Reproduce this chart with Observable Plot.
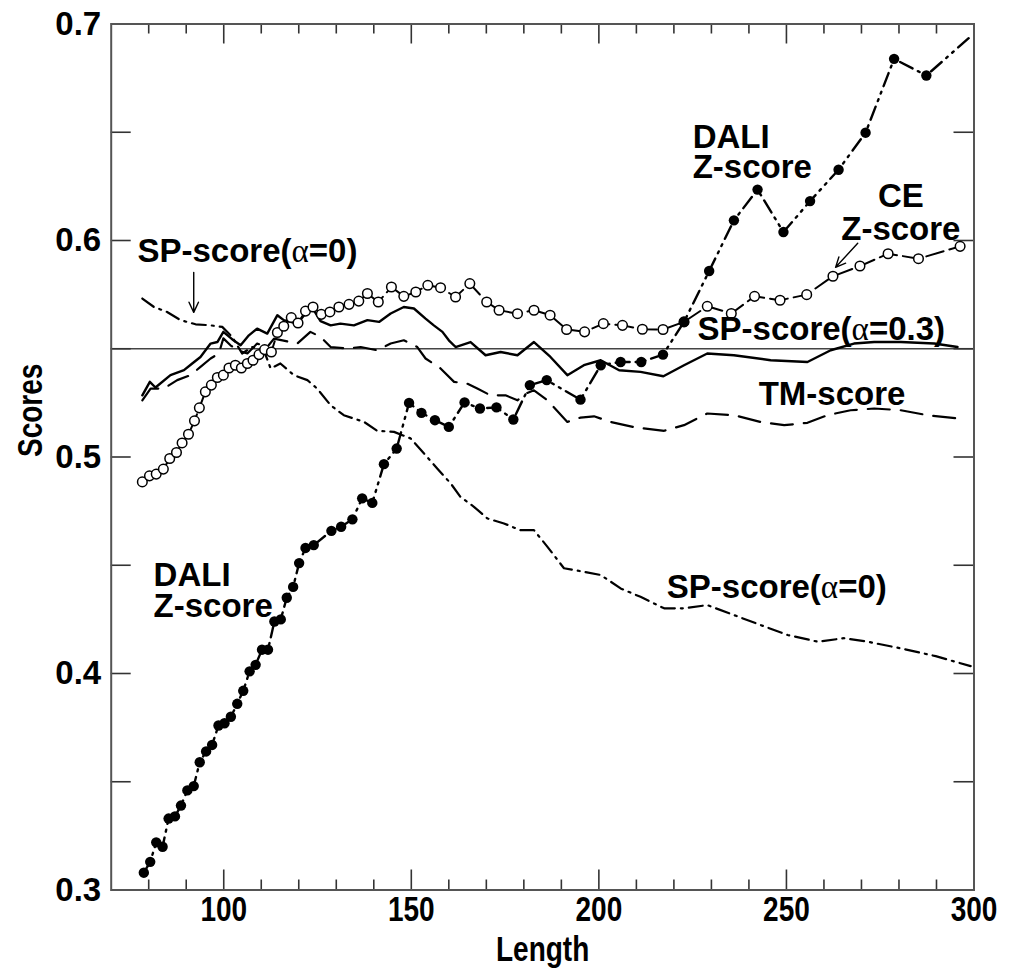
<!DOCTYPE html>
<html><head><meta charset="utf-8">
<script src="https://cdn.jsdelivr.net/npm/d3@7"></script>
<script src="https://cdn.jsdelivr.net/npm/@observablehq/plot@0.6"></script>
<style>body{margin:0;background:#fff} svg{display:block}</style>
</head><body><div id="chart"></div>
<script>
// ---- data ----
const ceX = [78.3,80.2,82.0,83.9,85.6,87.4,88.9,90.6,92.2,93.5,95.1,96.7,98.3,99.9,101.4,103.1,104.7,106.3,107.8,109.4,110.9,112.7,114.3,116.0,118.0,119.8,121.8,123.8,126.0,128.3,130.7,133.4,136.0,138.3,141.2,144.7,148.0,151.2,154.4,157.8,161.8,165.6,170.1,173.4,178.3,182.7,187.0,191.4,196.2,201.2,206.3,211.6,217.1,222.7,228.9,235.3,241.5,248.3,255.4,262.4,269.6,277.1,285.2,296.3];
const ceY = [0.4885,0.4913,0.4921,0.4944,0.4993,0.5021,0.5065,0.5105,0.5167,0.5227,0.5301,0.5332,0.5367,0.5378,0.5411,0.5424,0.5411,0.5432,0.5447,0.5473,0.5496,0.5485,0.5575,0.5604,0.5644,0.5619,0.5674,0.5693,0.5659,0.5670,0.5693,0.5705,0.5720,0.5755,0.5716,0.5785,0.5742,0.5762,0.5793,0.5782,0.5739,0.5801,0.5716,0.5678,0.5662,0.5678,0.5655,0.5589,0.5578,0.5616,0.5608,0.5590,0.5589,0.5624,0.5696,0.5663,0.5742,0.5724,0.5750,0.5835,0.5882,0.5939,0.5916,0.5973];

const daliX = [78.7,80.4,82.0,83.7,85.3,87.0,88.6,90.3,92.0,93.6,95.3,96.9,98.6,100.2,101.9,103.6,105.2,106.9,108.5,110.2,111.8,113.5,115.2,116.8,118.5,120.1,121.8,124.0,128.7,131.3,134.3,136.9,139.6,142.7,146.1,149.4,152.7,156.3,160.0,164.2,168.3,172.7,177.2,181.6,186.1,195.1,200.5,205.8,211.3,217.1,222.7,229.4,236.0,242.3,249.2,256.3,263.9,271.1,278.7,287.3,299.6];
const daliY = [0.308,0.313,0.322,0.320,0.333,0.334,0.339,0.346,0.348,0.359,0.364,0.367,0.376,0.377,0.380,0.386,0.392,0.401,0.404,0.411,0.411,0.424,0.425,0.435,0.440,0.451,0.458,0.4593,0.4659,0.4678,0.4712,0.4809,0.4788,0.4967,0.5039,0.5250,0.5204,0.5170,0.5139,0.5252,0.5224,0.5229,0.5173,0.5332,0.5355,0.5265,0.5424,0.5439,0.5439,0.5473,0.5624,0.5859,0.6093,0.6235,0.6039,0.6182,0.6327,0.6498,0.6839,0.6762,0.695];

const sp3X = [78.3,80.3,81.8,85.8,89.4,91.6,93.8,96.5,98.3,99.9,102.3,104.5,106.7,108.9,111.6,114.3,116.0,119.6,121.8,123.6,125.8,128.5,131.1,134.7,138.3,141.4,144.5,148.0,150.7,153.8,156.0,158.3,160.0,161.8,165.8,169.8,173.8,178.3,182.7,187.1,191.6,196.0,200.5,205.4,211.1,217.2,222.7,228.9,236.0,245.8,255.6,261.8,268.0,273.4,280.5,289.4,295.6];
const sp3Y = [0.5285,0.5347,0.5321,0.5378,0.5401,0.5432,0.5462,0.5524,0.5531,0.5578,0.5543,0.5516,0.5562,0.5593,0.5570,0.5655,0.5632,0.5616,0.5663,0.5690,0.5628,0.5608,0.5616,0.5608,0.5632,0.5624,0.5663,0.5693,0.5686,0.5639,0.5608,0.5578,0.5539,0.5508,0.5531,0.5470,0.5485,0.5470,0.5531,0.5462,0.5378,0.5424,0.5447,0.5401,0.5393,0.5373,0.5424,0.5478,0.5470,0.5447,0.5439,0.5493,0.5524,0.5531,0.5531,0.5524,0.5508];

const tmX = [78.3,80.5,84.0,87.6,91.1,93.8,96.5,98.7,99.9,101.8,103.6,106.3,108.9,111.6,113.4,119.6,123.1,125.8,128.5,132.9,136.5,140.9,144.5,148.0,151.6,153.8,157.8,161.4,164.9,167.6,171.1,175.1,178.3,180.5,182.7,186.3,191.6,195.1,198.7,203.1,209.4,217.4,222.7,228.9,236.0,243.1,249.4,255.6,260.9,267.1,273.4,280.5,287.6,296.0];
const tmY = [0.5262,0.5316,0.5316,0.5355,0.5378,0.5416,0.5455,0.5478,0.5548,0.5516,0.5493,0.5478,0.5524,0.5508,0.5547,0.5524,0.5578,0.5555,0.5508,0.5501,0.5508,0.5493,0.5524,0.5539,0.5508,0.5455,0.5409,0.5347,0.5339,0.5316,0.5285,0.5285,0.5262,0.5293,0.5308,0.5262,0.5162,0.5182,0.5188,0.5162,0.5138,0.5121,0.5147,0.5201,0.5193,0.5162,0.5147,0.5158,0.5193,0.5216,0.5224,0.5216,0.5193,0.5178];

const sp0X = [78.3,81.4,84.9,88.5,92.5,96.5,99.6,102.3,104.9,107.6,110.7,112.5,115.1,118.7,122.3,124.9,128.5,132.0,137.4,140.9,145.4,149.8,153.4,156.9,160.5,163.1,166.7,170.3,174.7,179.1,182.7,186.3,190.7,196.0,200.5,205.8,211.1,217.4,222.7,228.9,236.0,243.1,250.3,258.3,265.4,271.6,280.5,289.8,299.1];
const sp0Y = [0.5732,0.5693,0.5670,0.5632,0.5613,0.5608,0.5601,0.5554,0.5478,0.5508,0.5493,0.5409,0.5432,0.5378,0.5355,0.5316,0.5239,0.5193,0.5162,0.5121,0.5116,0.5086,0.5016,0.4947,0.4878,0.4816,0.4770,0.4716,0.4693,0.4662,0.4662,0.4585,0.4486,0.4470,0.4455,0.4393,0.4354,0.4301,0.4301,0.4316,0.4270,0.4224,0.4178,0.4147,0.4163,0.4147,0.4116,0.4080,0.4034];

const refLine = [0.55];
const xMajor = [100, 150, 200, 250, 300];
const xMinor = [80, 90, 110, 120, 130, 140, 160, 170, 180, 190, 210, 220, 230, 240, 260, 270, 280, 290];
const yMajor = [0.3, 0.4, 0.5, 0.6, 0.7];
const yMinor = [0.35, 0.45, 0.55, 0.65];
const xTitle = "Length", yTitle = "Scores";

const labelText = ["SP-score(\u03b1=0)", "DALI\nZ-score", "CE\nZ-score", "SP-score(\u03b1=0.3)", "TM-score", "SP-score(\u03b1=0)", "DALI\nZ-score"];
const labelX = [77.0, 225.0, 280.5, 226.3, 242.6, 218.1, 81.3];
const labelY = [0.5899, 0.6287, 0.6001, 0.5539, 0.5239, 0.4349, 0.4261];
const labelAnchor = ["start", "start", "middle", "start", "start", "start", "start"];

const arrowX1 = [92.0, 269.0], arrowY1 = [0.5853, 0.5987];
const arrowX2 = [92.0, 263.1], arrowY2 = [0.5668, 0.5876];

// ---- build tables ----
const rows = (xs, ys) => xs.map((x, i) => ({x, y: ys[i]}));
const ce = rows(ceX, ceY), dali = rows(daliX, daliY), sp3 = rows(sp3X, sp3Y), tm = rows(tmX, tmY), sp0 = rows(sp0X, sp0Y);
const daliDots = dali.slice(0, -1);
const labels = labelText.map((t, i) => ({t, x: labelX[i], y: labelY[i], a: labelAnchor[i]}));
const arrows = arrowX1.map((x1, i) => ({x1, y1: arrowY1[i], x2: arrowX2[i], y2: arrowY2[i]}));

const W = 1011, H = 973, mL = 110.7, mR = 37.5, mT = 23.5, mB = 83.5;
const pw = W - mL - mR, ph = H - mT - mB;
const MAJ = 20, MIN = 10;
const BOLD = "Liberation Sans, Arial, Helvetica, sans-serif";
const tickStroke = "#333";

const chart = Plot.plot({
  width: W, height: H,
  marginLeft: mL, marginRight: mR, marginTop: mT, marginBottom: mB,
  x: {domain: [70, 300]},
  y: {domain: [0.3, 0.7]},
  style: {background: "white"},
  marks: [
    Plot.ruleY(refLine, {stroke: "#444", strokeWidth: 1.6}),
    Plot.tickX(xMajor, {x: d => d, insetTop: ph - MAJ, stroke: tickStroke, strokeWidth: 1.6}),
    Plot.tickX(xMinor, {x: d => d, insetTop: ph - MIN, stroke: tickStroke, strokeWidth: 1.6}),
    Plot.tickX(xMajor, {x: d => d, insetBottom: ph - MAJ, stroke: tickStroke, strokeWidth: 1.6}),
    Plot.tickX(xMinor, {x: d => d, insetBottom: ph - MIN, stroke: tickStroke, strokeWidth: 1.6}),
    Plot.tickY(yMajor, {y: d => d, insetRight: pw - MAJ, stroke: tickStroke, strokeWidth: 1.6}),
    Plot.tickY(yMinor, {y: d => d, insetRight: pw - MAJ, stroke: tickStroke, strokeWidth: 1.6}),
    Plot.tickY(yMajor, {y: d => d, insetLeft: pw - MAJ, stroke: tickStroke, strokeWidth: 1.6}),
    Plot.tickY(yMinor, {y: d => d, insetLeft: pw - MAJ, stroke: tickStroke, strokeWidth: 1.6}),
    Plot.line(sp0, {x: "x", y: "y", stroke: "black", strokeWidth: 2.2, strokeDasharray: "14,6,2,6"}),
    Plot.line(tm, {x: "x", y: "y", stroke: "black", strokeWidth: 2.2, strokeDasharray: "22,11"}),
    Plot.line(sp3, {x: "x", y: "y", stroke: "black", strokeWidth: 2.4}),
    Plot.line(ce, {x: "x", y: "y", stroke: "black", strokeWidth: 2, strokeDasharray: "18,6"}),
    Plot.dot(ce, {x: "x", y: "y", r: 4.8, fill: "white", stroke: "black", strokeWidth: 1.5}),
    Plot.line(dali, {x: "x", y: "y", stroke: "black", strokeWidth: 2.4, strokeDasharray: "14,6,2,6,2,6"}),
    Plot.dot(daliDots, {x: "x", y: "y", r: 5.2, fill: "black", stroke: "none"}),
    Plot.text(labels.filter(d => d.a === "start"), {x: "x", y: "y", text: "t", textAnchor: "start", lineAnchor: "bottom", lineHeight: 0.93, fontSize: 33, fontWeight: "bold", fontFamily: BOLD, fill: "black"}),
    Plot.text(labels.filter(d => d.a === "middle"), {x: "x", y: "y", text: "t", textAnchor: "middle", lineAnchor: "bottom", lineHeight: 1.0, fontSize: 33, fontWeight: "bold", fontFamily: BOLD, fill: "black"}),
    Plot.arrow(arrows, {x1: "x1", y1: "y1", x2: "x2", y2: "y2", stroke: "black", strokeWidth: 1.4, headLength: 12, headAngle: 50}),
    Plot.frame({stroke: "#555", strokeWidth: 2}),
    Plot.axisX(xMajor, {tickSize: 0, tickPadding: 6, fontSize: 35, fontWeight: "bold", fontFamily: BOLD, label: null, fill: "black"}),
    Plot.axisY(yMajor, {tickSize: 0, tickPadding: 10, fontSize: 33, fontWeight: "bold", fontFamily: BOLD, label: null, tickFormat: d => d.toFixed(1), fill: "black"}),
    Plot.text([xTitle], {text: d => d, frameAnchor: "bottom", dy: 60, lineAnchor: "middle", fontSize: 35, fontWeight: "bold", fontFamily: BOLD, fill: "black"}),
    Plot.text([yTitle], {text: d => d, frameAnchor: "left", dx: -80, rotate: -90, lineAnchor: "middle", fontSize: 35, fontWeight: "bold", fontFamily: BOLD, fill: "black"})
  ]
});

// condensed look for the x tick labels and the axis titles (the reference uses a narrow bold face)
const narrowTexts = new Set([...xMajor.map(String), xTitle, yTitle]);
chart.querySelectorAll("text").forEach(el => {
  if (!narrowTexts.has(el.textContent.trim())) return;
  const t = el.getAttribute("transform") || "";
  el.setAttribute("transform", (t + " scale(0.8,1)").trim());
});

// alpha drawn in a thinner symbol-like face, as in the reference
chart.querySelectorAll("text, tspan").forEach(el => {
  if (el.children.length === 0 && el.textContent.includes("\u03b1")) {
    const parts = el.textContent.split("\u03b1");
    el.textContent = "";
    parts.forEach((p, i) => {
      if (i > 0) {
        const a = document.createElementNS("http://www.w3.org/2000/svg", "tspan");
        a.setAttribute("font-family", "Liberation Serif, DejaVu Serif, serif");
        a.setAttribute("font-weight", "normal");
        a.textContent = "\u03b1";
        el.appendChild(a);
      }
      el.appendChild(document.createTextNode(p));
    });
  }
});
document.getElementById("chart").appendChild(chart);
</script>
</body></html>
